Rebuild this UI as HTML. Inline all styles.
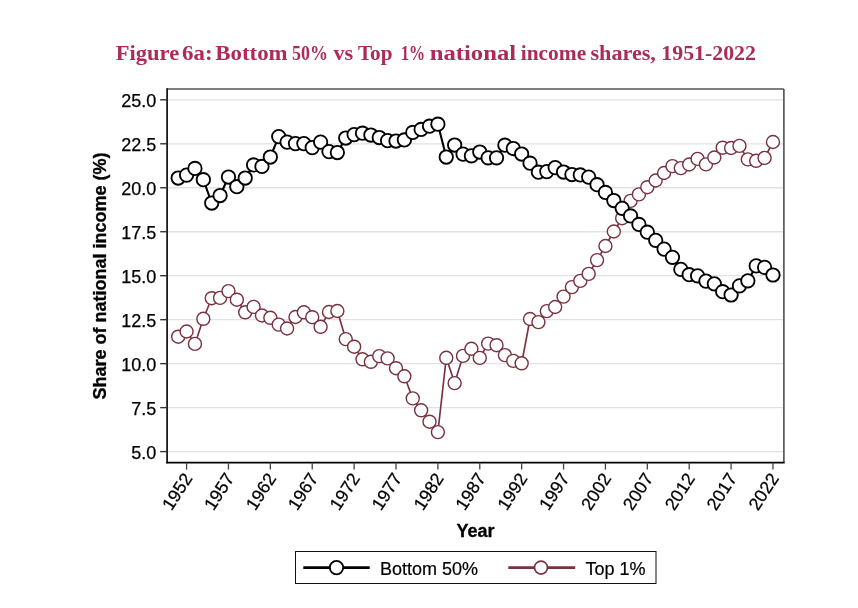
<!DOCTYPE html><html><head><meta charset="utf-8"><title>Figure 6a</title><style>html,body{margin:0;padding:0;background:#fff;}svg{display:block;}</style></head><body>
<svg width="858" height="608" viewBox="0 0 858 608">
<rect x="0" y="0" width="858" height="608" fill="#fff"/>
<g font-family="Liberation Serif, serif" font-weight="bold" font-size="20.5" fill="#ad2b5a">
<text x="115.8" y="59.8" textLength="63.4" lengthAdjust="spacingAndGlyphs">Figure</text>
<text x="182.0" y="59.8" textLength="30.5" lengthAdjust="spacingAndGlyphs">6a:</text>
<text x="215.3" y="59.8" textLength="72.3" lengthAdjust="spacingAndGlyphs">Bottom</text>
<text x="292.0" y="59.8" textLength="35.9" lengthAdjust="spacingAndGlyphs">50%</text>
<text x="333.5" y="59.8" textLength="19.7" lengthAdjust="spacingAndGlyphs">vs</text>
<text x="357.9" y="59.8" textLength="34.6" lengthAdjust="spacingAndGlyphs">Top</text>
<text x="400.9" y="59.8" textLength="24.1" lengthAdjust="spacingAndGlyphs">1%</text>
<text x="429.7" y="59.8" textLength="86.4" lengthAdjust="spacingAndGlyphs">national</text>
<text x="520.7" y="59.8" textLength="65.5" lengthAdjust="spacingAndGlyphs">income</text>
<text x="590.5" y="59.8" textLength="65.4" lengthAdjust="spacingAndGlyphs">shares,</text>
<text x="661.3" y="59.8" textLength="94.6" lengthAdjust="spacingAndGlyphs">1951-2022</text>
</g>
<line x1="167.85" y1="99.80" x2="783.15" y2="99.80" stroke="#e2e2e2" stroke-width="1.3"/>
<line x1="167.85" y1="143.78" x2="783.15" y2="143.78" stroke="#e2e2e2" stroke-width="1.3"/>
<line x1="167.85" y1="187.75" x2="783.15" y2="187.75" stroke="#e2e2e2" stroke-width="1.3"/>
<line x1="167.85" y1="231.73" x2="783.15" y2="231.73" stroke="#e2e2e2" stroke-width="1.3"/>
<line x1="167.85" y1="275.70" x2="783.15" y2="275.70" stroke="#e2e2e2" stroke-width="1.3"/>
<line x1="167.85" y1="319.68" x2="783.15" y2="319.68" stroke="#e2e2e2" stroke-width="1.3"/>
<line x1="167.85" y1="363.65" x2="783.15" y2="363.65" stroke="#e2e2e2" stroke-width="1.3"/>
<line x1="167.85" y1="407.62" x2="783.15" y2="407.62" stroke="#e2e2e2" stroke-width="1.3"/>
<line x1="167.85" y1="451.60" x2="783.15" y2="451.60" stroke="#e2e2e2" stroke-width="1.3"/>
<line x1="167.10" y1="89.00" x2="783.90" y2="89.00" stroke="#555" stroke-width="1.5"/>
<line x1="783.90" y1="89.00" x2="783.90" y2="462.60" stroke="#444" stroke-width="1.5"/>
<line x1="167.10" y1="88.25" x2="167.10" y2="463.35" stroke="#000" stroke-width="1.6"/>
<line x1="166.30" y1="462.60" x2="784.65" y2="462.60" stroke="#000" stroke-width="1.6"/>
<line x1="160.2" y1="99.80" x2="167.10" y2="99.80" stroke="#333" stroke-width="1.4"/>
<text x="156.2" y="106.80" text-anchor="end" font-family="Liberation Sans, Arial, sans-serif" font-size="18" fill="#000" stroke="#000" stroke-width="0.25">25.0</text>
<line x1="160.2" y1="143.78" x2="167.10" y2="143.78" stroke="#333" stroke-width="1.4"/>
<text x="156.2" y="150.78" text-anchor="end" font-family="Liberation Sans, Arial, sans-serif" font-size="18" fill="#000" stroke="#000" stroke-width="0.25">22.5</text>
<line x1="160.2" y1="187.75" x2="167.10" y2="187.75" stroke="#333" stroke-width="1.4"/>
<text x="156.2" y="194.75" text-anchor="end" font-family="Liberation Sans, Arial, sans-serif" font-size="18" fill="#000" stroke="#000" stroke-width="0.25">20.0</text>
<line x1="160.2" y1="231.73" x2="167.10" y2="231.73" stroke="#333" stroke-width="1.4"/>
<text x="156.2" y="238.73" text-anchor="end" font-family="Liberation Sans, Arial, sans-serif" font-size="18" fill="#000" stroke="#000" stroke-width="0.25">17.5</text>
<line x1="160.2" y1="275.70" x2="167.10" y2="275.70" stroke="#333" stroke-width="1.4"/>
<text x="156.2" y="282.70" text-anchor="end" font-family="Liberation Sans, Arial, sans-serif" font-size="18" fill="#000" stroke="#000" stroke-width="0.25">15.0</text>
<line x1="160.2" y1="319.68" x2="167.10" y2="319.68" stroke="#333" stroke-width="1.4"/>
<text x="156.2" y="326.68" text-anchor="end" font-family="Liberation Sans, Arial, sans-serif" font-size="18" fill="#000" stroke="#000" stroke-width="0.25">12.5</text>
<line x1="160.2" y1="363.65" x2="167.10" y2="363.65" stroke="#333" stroke-width="1.4"/>
<text x="156.2" y="370.65" text-anchor="end" font-family="Liberation Sans, Arial, sans-serif" font-size="18" fill="#000" stroke="#000" stroke-width="0.25">10.0</text>
<line x1="160.2" y1="407.62" x2="167.10" y2="407.62" stroke="#333" stroke-width="1.4"/>
<text x="156.2" y="414.62" text-anchor="end" font-family="Liberation Sans, Arial, sans-serif" font-size="18" fill="#000" stroke="#000" stroke-width="0.25">7.5</text>
<line x1="160.2" y1="451.60" x2="167.10" y2="451.60" stroke="#333" stroke-width="1.4"/>
<text x="156.2" y="458.60" text-anchor="end" font-family="Liberation Sans, Arial, sans-serif" font-size="18" fill="#000" stroke="#000" stroke-width="0.25">5.0</text>
<line x1="186.58" y1="462.60" x2="186.58" y2="469.60" stroke="#444" stroke-width="1.3"/>
<text transform="translate(187.78,474.80) rotate(-57)" x="0" y="6.37" text-anchor="end" font-family="Liberation Sans, Arial, sans-serif" font-size="17.8" fill="#000" stroke="#000" stroke-width="0.25">1952</text>
<line x1="228.46" y1="462.60" x2="228.46" y2="469.60" stroke="#444" stroke-width="1.3"/>
<text transform="translate(229.66,474.80) rotate(-57)" x="0" y="6.37" text-anchor="end" font-family="Liberation Sans, Arial, sans-serif" font-size="17.8" fill="#000" stroke="#000" stroke-width="0.25">1957</text>
<line x1="270.35" y1="462.60" x2="270.35" y2="469.60" stroke="#444" stroke-width="1.3"/>
<text transform="translate(271.55,474.80) rotate(-57)" x="0" y="6.37" text-anchor="end" font-family="Liberation Sans, Arial, sans-serif" font-size="17.8" fill="#000" stroke="#000" stroke-width="0.25">1962</text>
<line x1="312.23" y1="462.60" x2="312.23" y2="469.60" stroke="#444" stroke-width="1.3"/>
<text transform="translate(313.43,474.80) rotate(-57)" x="0" y="6.37" text-anchor="end" font-family="Liberation Sans, Arial, sans-serif" font-size="17.8" fill="#000" stroke="#000" stroke-width="0.25">1967</text>
<line x1="354.12" y1="462.60" x2="354.12" y2="469.60" stroke="#444" stroke-width="1.3"/>
<text transform="translate(355.32,474.80) rotate(-57)" x="0" y="6.37" text-anchor="end" font-family="Liberation Sans, Arial, sans-serif" font-size="17.8" fill="#000" stroke="#000" stroke-width="0.25">1972</text>
<line x1="396.00" y1="462.60" x2="396.00" y2="469.60" stroke="#444" stroke-width="1.3"/>
<text transform="translate(397.20,474.80) rotate(-57)" x="0" y="6.37" text-anchor="end" font-family="Liberation Sans, Arial, sans-serif" font-size="17.8" fill="#000" stroke="#000" stroke-width="0.25">1977</text>
<line x1="437.89" y1="462.60" x2="437.89" y2="469.60" stroke="#444" stroke-width="1.3"/>
<text transform="translate(439.09,474.80) rotate(-57)" x="0" y="6.37" text-anchor="end" font-family="Liberation Sans, Arial, sans-serif" font-size="17.8" fill="#000" stroke="#000" stroke-width="0.25">1982</text>
<line x1="479.77" y1="462.60" x2="479.77" y2="469.60" stroke="#444" stroke-width="1.3"/>
<text transform="translate(480.97,474.80) rotate(-57)" x="0" y="6.37" text-anchor="end" font-family="Liberation Sans, Arial, sans-serif" font-size="17.8" fill="#000" stroke="#000" stroke-width="0.25">1987</text>
<line x1="521.66" y1="462.60" x2="521.66" y2="469.60" stroke="#444" stroke-width="1.3"/>
<text transform="translate(522.86,474.80) rotate(-57)" x="0" y="6.37" text-anchor="end" font-family="Liberation Sans, Arial, sans-serif" font-size="17.8" fill="#000" stroke="#000" stroke-width="0.25">1992</text>
<line x1="563.54" y1="462.60" x2="563.54" y2="469.60" stroke="#444" stroke-width="1.3"/>
<text transform="translate(564.74,474.80) rotate(-57)" x="0" y="6.37" text-anchor="end" font-family="Liberation Sans, Arial, sans-serif" font-size="17.8" fill="#000" stroke="#000" stroke-width="0.25">1997</text>
<line x1="605.43" y1="462.60" x2="605.43" y2="469.60" stroke="#444" stroke-width="1.3"/>
<text transform="translate(606.63,474.80) rotate(-57)" x="0" y="6.37" text-anchor="end" font-family="Liberation Sans, Arial, sans-serif" font-size="17.8" fill="#000" stroke="#000" stroke-width="0.25">2002</text>
<line x1="647.31" y1="462.60" x2="647.31" y2="469.60" stroke="#444" stroke-width="1.3"/>
<text transform="translate(648.51,474.80) rotate(-57)" x="0" y="6.37" text-anchor="end" font-family="Liberation Sans, Arial, sans-serif" font-size="17.8" fill="#000" stroke="#000" stroke-width="0.25">2007</text>
<line x1="689.20" y1="462.60" x2="689.20" y2="469.60" stroke="#444" stroke-width="1.3"/>
<text transform="translate(690.40,474.80) rotate(-57)" x="0" y="6.37" text-anchor="end" font-family="Liberation Sans, Arial, sans-serif" font-size="17.8" fill="#000" stroke="#000" stroke-width="0.25">2012</text>
<line x1="731.08" y1="462.60" x2="731.08" y2="469.60" stroke="#444" stroke-width="1.3"/>
<text transform="translate(732.28,474.80) rotate(-57)" x="0" y="6.37" text-anchor="end" font-family="Liberation Sans, Arial, sans-serif" font-size="17.8" fill="#000" stroke="#000" stroke-width="0.25">2017</text>
<line x1="772.97" y1="462.60" x2="772.97" y2="469.60" stroke="#444" stroke-width="1.3"/>
<text transform="translate(774.17,474.80) rotate(-57)" x="0" y="6.37" text-anchor="end" font-family="Liberation Sans, Arial, sans-serif" font-size="17.8" fill="#000" stroke="#000" stroke-width="0.25">2022</text>
<text x="475.5" y="537.3" text-anchor="middle" font-family="Liberation Sans, Arial, sans-serif" font-weight="bold" font-size="18" fill="#000" stroke="#000" stroke-width="0.3">Year</text>
<text transform="translate(106.0,276) rotate(-90)" text-anchor="middle" font-family="Liberation Sans, Arial, sans-serif" font-weight="bold" font-size="18" fill="#000" stroke="#000" stroke-width="0.3">Share of national income (%)</text>
<polyline points="178.20,336.70 186.58,331.50 194.95,343.90 203.33,318.80 211.71,298.20 220.08,297.90 228.46,291.10 236.84,299.70 245.22,312.30 253.59,306.90 261.97,315.50 270.35,317.80 278.72,324.60 287.10,328.50 295.48,317.00 303.86,312.30 312.23,317.20 320.61,326.80 328.99,312.00 337.36,311.00 345.74,339.10 354.12,346.70 362.49,359.30 370.87,361.80 379.25,356.10 387.62,358.40 396.00,368.20 404.38,376.30 412.76,398.40 421.13,410.30 429.51,421.70 437.89,432.10 446.26,357.80 454.64,383.10 463.02,355.90 471.40,348.80 479.77,357.90 488.15,343.60 496.53,345.20 504.90,355.10 513.28,360.90 521.66,363.30 530.03,319.00 538.41,322.10 546.79,311.10 555.16,307.00 563.54,296.60 571.92,287.10 580.30,280.90 588.67,273.90 597.05,260.10 605.43,246.00 613.80,231.50 622.18,218.20 630.56,200.90 638.93,194.40 647.31,187.20 655.69,180.50 664.07,173.00 672.44,166.10 680.82,168.10 689.20,164.50 697.57,158.90 705.95,164.40 714.33,157.50 722.70,147.70 731.08,148.00 739.46,145.90 747.84,159.40 756.21,160.80 764.59,157.90 772.97,142.00" fill="none" stroke="#79323f" stroke-width="1.65" stroke-linejoin="round"/>
<circle cx="178.20" cy="336.70" r="6.5" fill="#fff" stroke="#79323f" stroke-width="1.4"/>
<circle cx="186.58" cy="331.50" r="6.5" fill="#fff" stroke="#79323f" stroke-width="1.4"/>
<circle cx="194.95" cy="343.90" r="6.5" fill="#fff" stroke="#79323f" stroke-width="1.4"/>
<circle cx="203.33" cy="318.80" r="6.5" fill="#fff" stroke="#79323f" stroke-width="1.4"/>
<circle cx="211.71" cy="298.20" r="6.5" fill="#fff" stroke="#79323f" stroke-width="1.4"/>
<circle cx="220.08" cy="297.90" r="6.5" fill="#fff" stroke="#79323f" stroke-width="1.4"/>
<circle cx="228.46" cy="291.10" r="6.5" fill="#fff" stroke="#79323f" stroke-width="1.4"/>
<circle cx="236.84" cy="299.70" r="6.5" fill="#fff" stroke="#79323f" stroke-width="1.4"/>
<circle cx="245.22" cy="312.30" r="6.5" fill="#fff" stroke="#79323f" stroke-width="1.4"/>
<circle cx="253.59" cy="306.90" r="6.5" fill="#fff" stroke="#79323f" stroke-width="1.4"/>
<circle cx="261.97" cy="315.50" r="6.5" fill="#fff" stroke="#79323f" stroke-width="1.4"/>
<circle cx="270.35" cy="317.80" r="6.5" fill="#fff" stroke="#79323f" stroke-width="1.4"/>
<circle cx="278.72" cy="324.60" r="6.5" fill="#fff" stroke="#79323f" stroke-width="1.4"/>
<circle cx="287.10" cy="328.50" r="6.5" fill="#fff" stroke="#79323f" stroke-width="1.4"/>
<circle cx="295.48" cy="317.00" r="6.5" fill="#fff" stroke="#79323f" stroke-width="1.4"/>
<circle cx="303.86" cy="312.30" r="6.5" fill="#fff" stroke="#79323f" stroke-width="1.4"/>
<circle cx="312.23" cy="317.20" r="6.5" fill="#fff" stroke="#79323f" stroke-width="1.4"/>
<circle cx="320.61" cy="326.80" r="6.5" fill="#fff" stroke="#79323f" stroke-width="1.4"/>
<circle cx="328.99" cy="312.00" r="6.5" fill="#fff" stroke="#79323f" stroke-width="1.4"/>
<circle cx="337.36" cy="311.00" r="6.5" fill="#fff" stroke="#79323f" stroke-width="1.4"/>
<circle cx="345.74" cy="339.10" r="6.5" fill="#fff" stroke="#79323f" stroke-width="1.4"/>
<circle cx="354.12" cy="346.70" r="6.5" fill="#fff" stroke="#79323f" stroke-width="1.4"/>
<circle cx="362.49" cy="359.30" r="6.5" fill="#fff" stroke="#79323f" stroke-width="1.4"/>
<circle cx="370.87" cy="361.80" r="6.5" fill="#fff" stroke="#79323f" stroke-width="1.4"/>
<circle cx="379.25" cy="356.10" r="6.5" fill="#fff" stroke="#79323f" stroke-width="1.4"/>
<circle cx="387.62" cy="358.40" r="6.5" fill="#fff" stroke="#79323f" stroke-width="1.4"/>
<circle cx="396.00" cy="368.20" r="6.5" fill="#fff" stroke="#79323f" stroke-width="1.4"/>
<circle cx="404.38" cy="376.30" r="6.5" fill="#fff" stroke="#79323f" stroke-width="1.4"/>
<circle cx="412.76" cy="398.40" r="6.5" fill="#fff" stroke="#79323f" stroke-width="1.4"/>
<circle cx="421.13" cy="410.30" r="6.5" fill="#fff" stroke="#79323f" stroke-width="1.4"/>
<circle cx="429.51" cy="421.70" r="6.5" fill="#fff" stroke="#79323f" stroke-width="1.4"/>
<circle cx="437.89" cy="432.10" r="6.5" fill="#fff" stroke="#79323f" stroke-width="1.4"/>
<circle cx="446.26" cy="357.80" r="6.5" fill="#fff" stroke="#79323f" stroke-width="1.4"/>
<circle cx="454.64" cy="383.10" r="6.5" fill="#fff" stroke="#79323f" stroke-width="1.4"/>
<circle cx="463.02" cy="355.90" r="6.5" fill="#fff" stroke="#79323f" stroke-width="1.4"/>
<circle cx="471.40" cy="348.80" r="6.5" fill="#fff" stroke="#79323f" stroke-width="1.4"/>
<circle cx="479.77" cy="357.90" r="6.5" fill="#fff" stroke="#79323f" stroke-width="1.4"/>
<circle cx="488.15" cy="343.60" r="6.5" fill="#fff" stroke="#79323f" stroke-width="1.4"/>
<circle cx="496.53" cy="345.20" r="6.5" fill="#fff" stroke="#79323f" stroke-width="1.4"/>
<circle cx="504.90" cy="355.10" r="6.5" fill="#fff" stroke="#79323f" stroke-width="1.4"/>
<circle cx="513.28" cy="360.90" r="6.5" fill="#fff" stroke="#79323f" stroke-width="1.4"/>
<circle cx="521.66" cy="363.30" r="6.5" fill="#fff" stroke="#79323f" stroke-width="1.4"/>
<circle cx="530.03" cy="319.00" r="6.5" fill="#fff" stroke="#79323f" stroke-width="1.4"/>
<circle cx="538.41" cy="322.10" r="6.5" fill="#fff" stroke="#79323f" stroke-width="1.4"/>
<circle cx="546.79" cy="311.10" r="6.5" fill="#fff" stroke="#79323f" stroke-width="1.4"/>
<circle cx="555.16" cy="307.00" r="6.5" fill="#fff" stroke="#79323f" stroke-width="1.4"/>
<circle cx="563.54" cy="296.60" r="6.5" fill="#fff" stroke="#79323f" stroke-width="1.4"/>
<circle cx="571.92" cy="287.10" r="6.5" fill="#fff" stroke="#79323f" stroke-width="1.4"/>
<circle cx="580.30" cy="280.90" r="6.5" fill="#fff" stroke="#79323f" stroke-width="1.4"/>
<circle cx="588.67" cy="273.90" r="6.5" fill="#fff" stroke="#79323f" stroke-width="1.4"/>
<circle cx="597.05" cy="260.10" r="6.5" fill="#fff" stroke="#79323f" stroke-width="1.4"/>
<circle cx="605.43" cy="246.00" r="6.5" fill="#fff" stroke="#79323f" stroke-width="1.4"/>
<circle cx="613.80" cy="231.50" r="6.5" fill="#fff" stroke="#79323f" stroke-width="1.4"/>
<circle cx="622.18" cy="218.20" r="6.5" fill="#fff" stroke="#79323f" stroke-width="1.4"/>
<circle cx="630.56" cy="200.90" r="6.5" fill="#fff" stroke="#79323f" stroke-width="1.4"/>
<circle cx="638.93" cy="194.40" r="6.5" fill="#fff" stroke="#79323f" stroke-width="1.4"/>
<circle cx="647.31" cy="187.20" r="6.5" fill="#fff" stroke="#79323f" stroke-width="1.4"/>
<circle cx="655.69" cy="180.50" r="6.5" fill="#fff" stroke="#79323f" stroke-width="1.4"/>
<circle cx="664.07" cy="173.00" r="6.5" fill="#fff" stroke="#79323f" stroke-width="1.4"/>
<circle cx="672.44" cy="166.10" r="6.5" fill="#fff" stroke="#79323f" stroke-width="1.4"/>
<circle cx="680.82" cy="168.10" r="6.5" fill="#fff" stroke="#79323f" stroke-width="1.4"/>
<circle cx="689.20" cy="164.50" r="6.5" fill="#fff" stroke="#79323f" stroke-width="1.4"/>
<circle cx="697.57" cy="158.90" r="6.5" fill="#fff" stroke="#79323f" stroke-width="1.4"/>
<circle cx="705.95" cy="164.40" r="6.5" fill="#fff" stroke="#79323f" stroke-width="1.4"/>
<circle cx="714.33" cy="157.50" r="6.5" fill="#fff" stroke="#79323f" stroke-width="1.4"/>
<circle cx="722.70" cy="147.70" r="6.5" fill="#fff" stroke="#79323f" stroke-width="1.4"/>
<circle cx="731.08" cy="148.00" r="6.5" fill="#fff" stroke="#79323f" stroke-width="1.4"/>
<circle cx="739.46" cy="145.90" r="6.5" fill="#fff" stroke="#79323f" stroke-width="1.4"/>
<circle cx="747.84" cy="159.40" r="6.5" fill="#fff" stroke="#79323f" stroke-width="1.4"/>
<circle cx="756.21" cy="160.80" r="6.5" fill="#fff" stroke="#79323f" stroke-width="1.4"/>
<circle cx="764.59" cy="157.90" r="6.5" fill="#fff" stroke="#79323f" stroke-width="1.4"/>
<circle cx="772.97" cy="142.00" r="6.5" fill="#fff" stroke="#79323f" stroke-width="1.4"/>
<polyline points="178.20,178.00 186.58,175.10 194.95,168.40 203.33,179.70 211.71,203.00 220.08,195.50 228.46,177.00 236.84,186.70 245.22,178.00 253.59,164.90 261.97,166.40 270.35,157.00 278.72,136.60 287.10,142.10 295.48,143.60 303.86,143.60 312.23,147.60 320.61,142.10 328.99,151.60 337.36,152.50 345.74,138.00 354.12,134.60 362.49,133.20 370.87,135.00 379.25,137.50 387.62,140.60 396.00,141.00 404.38,139.90 412.76,132.40 421.13,129.40 429.51,126.20 437.89,124.20 446.26,157.00 454.64,145.00 463.02,154.10 471.40,155.80 479.77,152.00 488.15,157.80 496.53,157.80 504.90,145.20 513.28,148.50 521.66,154.00 530.03,163.20 538.41,172.20 546.79,171.60 555.16,167.60 563.54,172.00 571.92,174.50 580.30,174.90 588.67,177.10 597.05,184.70 605.43,192.40 613.80,200.50 622.18,208.30 630.56,215.90 638.93,224.40 647.31,232.20 655.69,240.30 664.07,249.10 672.44,257.30 680.82,269.40 689.20,274.70 697.57,275.80 705.95,281.10 714.33,283.80 722.70,291.70 731.08,295.00 739.46,285.90 747.84,280.80 756.21,265.90 764.59,267.40 772.97,275.00" fill="none" stroke="#000" stroke-width="2.1" stroke-linejoin="round"/>
<circle cx="178.20" cy="178.00" r="6.7" fill="#fff" stroke="#000" stroke-width="1.85"/>
<circle cx="186.58" cy="175.10" r="6.7" fill="#fff" stroke="#000" stroke-width="1.85"/>
<circle cx="194.95" cy="168.40" r="6.7" fill="#fff" stroke="#000" stroke-width="1.85"/>
<circle cx="203.33" cy="179.70" r="6.7" fill="#fff" stroke="#000" stroke-width="1.85"/>
<circle cx="211.71" cy="203.00" r="6.7" fill="#fff" stroke="#000" stroke-width="1.85"/>
<circle cx="220.08" cy="195.50" r="6.7" fill="#fff" stroke="#000" stroke-width="1.85"/>
<circle cx="228.46" cy="177.00" r="6.7" fill="#fff" stroke="#000" stroke-width="1.85"/>
<circle cx="236.84" cy="186.70" r="6.7" fill="#fff" stroke="#000" stroke-width="1.85"/>
<circle cx="245.22" cy="178.00" r="6.7" fill="#fff" stroke="#000" stroke-width="1.85"/>
<circle cx="253.59" cy="164.90" r="6.7" fill="#fff" stroke="#000" stroke-width="1.85"/>
<circle cx="261.97" cy="166.40" r="6.7" fill="#fff" stroke="#000" stroke-width="1.85"/>
<circle cx="270.35" cy="157.00" r="6.7" fill="#fff" stroke="#000" stroke-width="1.85"/>
<circle cx="278.72" cy="136.60" r="6.7" fill="#fff" stroke="#000" stroke-width="1.85"/>
<circle cx="287.10" cy="142.10" r="6.7" fill="#fff" stroke="#000" stroke-width="1.85"/>
<circle cx="295.48" cy="143.60" r="6.7" fill="#fff" stroke="#000" stroke-width="1.85"/>
<circle cx="303.86" cy="143.60" r="6.7" fill="#fff" stroke="#000" stroke-width="1.85"/>
<circle cx="312.23" cy="147.60" r="6.7" fill="#fff" stroke="#000" stroke-width="1.85"/>
<circle cx="320.61" cy="142.10" r="6.7" fill="#fff" stroke="#000" stroke-width="1.85"/>
<circle cx="328.99" cy="151.60" r="6.7" fill="#fff" stroke="#000" stroke-width="1.85"/>
<circle cx="337.36" cy="152.50" r="6.7" fill="#fff" stroke="#000" stroke-width="1.85"/>
<circle cx="345.74" cy="138.00" r="6.7" fill="#fff" stroke="#000" stroke-width="1.85"/>
<circle cx="354.12" cy="134.60" r="6.7" fill="#fff" stroke="#000" stroke-width="1.85"/>
<circle cx="362.49" cy="133.20" r="6.7" fill="#fff" stroke="#000" stroke-width="1.85"/>
<circle cx="370.87" cy="135.00" r="6.7" fill="#fff" stroke="#000" stroke-width="1.85"/>
<circle cx="379.25" cy="137.50" r="6.7" fill="#fff" stroke="#000" stroke-width="1.85"/>
<circle cx="387.62" cy="140.60" r="6.7" fill="#fff" stroke="#000" stroke-width="1.85"/>
<circle cx="396.00" cy="141.00" r="6.7" fill="#fff" stroke="#000" stroke-width="1.85"/>
<circle cx="404.38" cy="139.90" r="6.7" fill="#fff" stroke="#000" stroke-width="1.85"/>
<circle cx="412.76" cy="132.40" r="6.7" fill="#fff" stroke="#000" stroke-width="1.85"/>
<circle cx="421.13" cy="129.40" r="6.7" fill="#fff" stroke="#000" stroke-width="1.85"/>
<circle cx="429.51" cy="126.20" r="6.7" fill="#fff" stroke="#000" stroke-width="1.85"/>
<circle cx="437.89" cy="124.20" r="6.7" fill="#fff" stroke="#000" stroke-width="1.85"/>
<circle cx="446.26" cy="157.00" r="6.7" fill="#fff" stroke="#000" stroke-width="1.85"/>
<circle cx="454.64" cy="145.00" r="6.7" fill="#fff" stroke="#000" stroke-width="1.85"/>
<circle cx="463.02" cy="154.10" r="6.7" fill="#fff" stroke="#000" stroke-width="1.85"/>
<circle cx="471.40" cy="155.80" r="6.7" fill="#fff" stroke="#000" stroke-width="1.85"/>
<circle cx="479.77" cy="152.00" r="6.7" fill="#fff" stroke="#000" stroke-width="1.85"/>
<circle cx="488.15" cy="157.80" r="6.7" fill="#fff" stroke="#000" stroke-width="1.85"/>
<circle cx="496.53" cy="157.80" r="6.7" fill="#fff" stroke="#000" stroke-width="1.85"/>
<circle cx="504.90" cy="145.20" r="6.7" fill="#fff" stroke="#000" stroke-width="1.85"/>
<circle cx="513.28" cy="148.50" r="6.7" fill="#fff" stroke="#000" stroke-width="1.85"/>
<circle cx="521.66" cy="154.00" r="6.7" fill="#fff" stroke="#000" stroke-width="1.85"/>
<circle cx="530.03" cy="163.20" r="6.7" fill="#fff" stroke="#000" stroke-width="1.85"/>
<circle cx="538.41" cy="172.20" r="6.7" fill="#fff" stroke="#000" stroke-width="1.85"/>
<circle cx="546.79" cy="171.60" r="6.7" fill="#fff" stroke="#000" stroke-width="1.85"/>
<circle cx="555.16" cy="167.60" r="6.7" fill="#fff" stroke="#000" stroke-width="1.85"/>
<circle cx="563.54" cy="172.00" r="6.7" fill="#fff" stroke="#000" stroke-width="1.85"/>
<circle cx="571.92" cy="174.50" r="6.7" fill="#fff" stroke="#000" stroke-width="1.85"/>
<circle cx="580.30" cy="174.90" r="6.7" fill="#fff" stroke="#000" stroke-width="1.85"/>
<circle cx="588.67" cy="177.10" r="6.7" fill="#fff" stroke="#000" stroke-width="1.85"/>
<circle cx="597.05" cy="184.70" r="6.7" fill="#fff" stroke="#000" stroke-width="1.85"/>
<circle cx="605.43" cy="192.40" r="6.7" fill="#fff" stroke="#000" stroke-width="1.85"/>
<circle cx="613.80" cy="200.50" r="6.7" fill="#fff" stroke="#000" stroke-width="1.85"/>
<circle cx="622.18" cy="208.30" r="6.7" fill="#fff" stroke="#000" stroke-width="1.85"/>
<circle cx="630.56" cy="215.90" r="6.7" fill="#fff" stroke="#000" stroke-width="1.85"/>
<circle cx="638.93" cy="224.40" r="6.7" fill="#fff" stroke="#000" stroke-width="1.85"/>
<circle cx="647.31" cy="232.20" r="6.7" fill="#fff" stroke="#000" stroke-width="1.85"/>
<circle cx="655.69" cy="240.30" r="6.7" fill="#fff" stroke="#000" stroke-width="1.85"/>
<circle cx="664.07" cy="249.10" r="6.7" fill="#fff" stroke="#000" stroke-width="1.85"/>
<circle cx="672.44" cy="257.30" r="6.7" fill="#fff" stroke="#000" stroke-width="1.85"/>
<circle cx="680.82" cy="269.40" r="6.7" fill="#fff" stroke="#000" stroke-width="1.85"/>
<circle cx="689.20" cy="274.70" r="6.7" fill="#fff" stroke="#000" stroke-width="1.85"/>
<circle cx="697.57" cy="275.80" r="6.7" fill="#fff" stroke="#000" stroke-width="1.85"/>
<circle cx="705.95" cy="281.10" r="6.7" fill="#fff" stroke="#000" stroke-width="1.85"/>
<circle cx="714.33" cy="283.80" r="6.7" fill="#fff" stroke="#000" stroke-width="1.85"/>
<circle cx="722.70" cy="291.70" r="6.7" fill="#fff" stroke="#000" stroke-width="1.85"/>
<circle cx="731.08" cy="295.00" r="6.7" fill="#fff" stroke="#000" stroke-width="1.85"/>
<circle cx="739.46" cy="285.90" r="6.7" fill="#fff" stroke="#000" stroke-width="1.85"/>
<circle cx="747.84" cy="280.80" r="6.7" fill="#fff" stroke="#000" stroke-width="1.85"/>
<circle cx="756.21" cy="265.90" r="6.7" fill="#fff" stroke="#000" stroke-width="1.85"/>
<circle cx="764.59" cy="267.40" r="6.7" fill="#fff" stroke="#000" stroke-width="1.85"/>
<circle cx="772.97" cy="275.00" r="6.7" fill="#fff" stroke="#000" stroke-width="1.85"/>
<rect x="295.5" y="551.5" width="360.5" height="32" fill="#fff" stroke="#111" stroke-width="1"/>
<line x1="303.3" y1="567.6" x2="369.7" y2="567.6" stroke="#000" stroke-width="2.6"/>
<circle cx="336.5" cy="567.6" r="6.7" fill="#fff" stroke="#000" stroke-width="1.85"/>
<text x="380.0" y="574.7" font-family="Liberation Sans, Arial, sans-serif" font-size="18" fill="#000" stroke="#000" stroke-width="0.2">Bottom 50%</text>
<line x1="508.3" y1="567.6" x2="575.2" y2="567.6" stroke="#79323f" stroke-width="2.6"/>
<circle cx="541.0" cy="567.6" r="6.5" fill="#fff" stroke="#79323f" stroke-width="1.7"/>
<text x="585.5" y="574.7" font-family="Liberation Sans, Arial, sans-serif" font-size="18" fill="#000" stroke="#000" stroke-width="0.2">Top 1%</text>
</svg></body></html>
